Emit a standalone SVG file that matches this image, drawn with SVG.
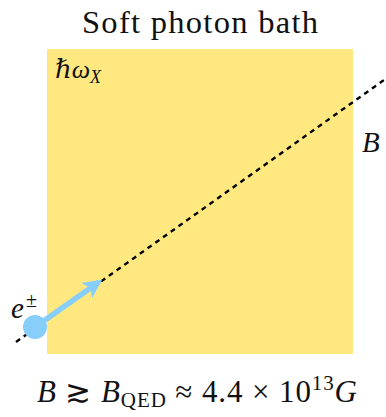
<svg xmlns="http://www.w3.org/2000/svg" width="386" height="417" viewBox="0 0 386 417">
<style>
text{font-family:"Liberation Serif","DejaVu Serif",serif;fill:#111}
.it{font-style:italic}
</style>
<defs>
<marker id="ah" viewBox="0 0 10 10" refX="8" refY="5" markerWidth="3.4" markerHeight="3.4" orient="auto" markerUnits="strokeWidth">
<path d="M0,0 L10,5 L0,10 L2.5,5 Z" fill="#87CEFA"/>
</marker>
</defs>
<g id="bath">
<rect x="47" y="49" width="306" height="305" fill="#FFE880"/>
<text x="82" y="33" font-size="32.5" textLength="236" lengthAdjust="spacing">Soft photon bath</text>
<text x="55" y="78" font-size="26" class="it">ℏω<tspan font-size="18" dy="5">X</tspan></text>
</g>
<g id="connectors">
<line x1="16" y1="342" x2="384" y2="80" stroke="#000" stroke-width="2.4" stroke-dasharray="5,4.5"/>
<line x1="35" y1="327" x2="99" y2="282" stroke="#87CEFA" stroke-width="5.5" marker-end="url(#ah)"/>
</g>
<g id="particle">
<circle cx="35" cy="327" r="12" fill="#87CEFA"/>
<text x="11" y="318" font-size="29" class="it">e<tspan font-size="20" dx="2" dy="-11" font-style="normal">±</tspan></text>
</g>
<g id="field">
<text x="362" y="152" font-size="29" class="it">B</text>
</g>
<g id="formula">
<text x="37" y="402" font-size="31" textLength="320" lengthAdjust="spacing"><tspan class="it">B</tspan> ≳ <tspan class="it">B</tspan><tspan font-size="21" dy="5">QED</tspan><tspan dy="-5"> ≈ 4.4 × 10</tspan><tspan font-size="21" dy="-12">13</tspan><tspan class="it" dy="12">G</tspan></text>
</g>
</svg>
